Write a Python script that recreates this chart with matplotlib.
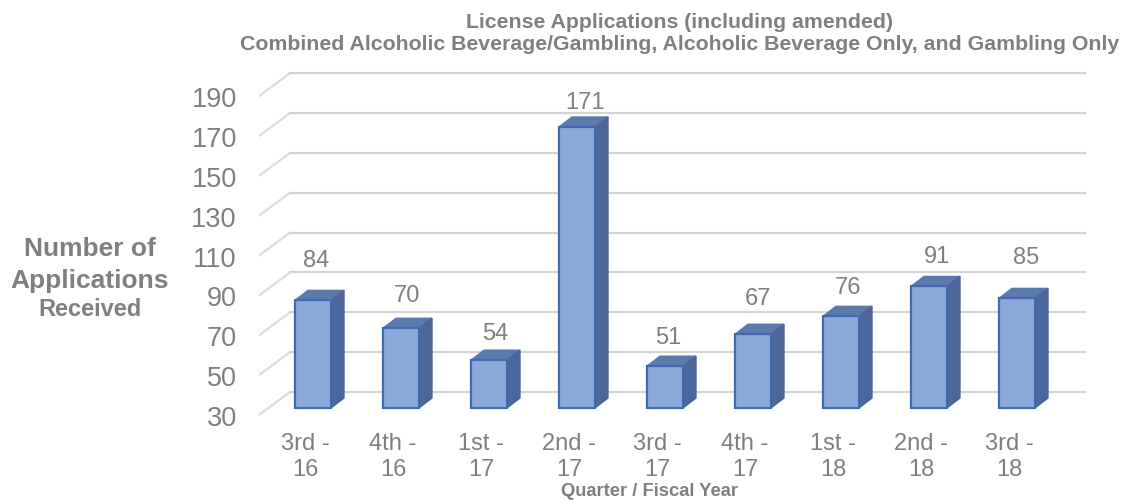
import matplotlib
matplotlib.use("Agg")
import matplotlib.pyplot as plt
from matplotlib.patches import Polygon

plt.rcParams['font.family'] = ['Liberation Sans', 'DejaVu Sans']

quarters = ["3rd -\n16", "4th -\n16", "1st -\n17", "2nd -\n17", "3rd -\n17",
            "4th -\n17", "1st -\n18", "2nd -\n18", "3rd -\n18"]
applications = [84, 70, 54, 171, 51, 67, 76, 91, 85]
y_ticks = [30, 50, 70, 90, 110, 130, 150, 170, 190]
# label offsets from the bar top (px)
label_dx = [3, 6, 6, 8, 3, 5, 7, 8, 9]
label_dy = [40, 33, 27, 25, 29, 36, 29, 30, 41]

W, H = 1125, 502
GRAY = "#7f7f7f"
FRONT, EDGE, TOP, SIDE = "#8ba8d9", "#3f69b2", "#5b79ad", "#4d6699"

px_x = 1 / 88           # data units per pixel, x
px_y = 1 / 1.993        # data units per pixel, y
bar_w = 36 * px_x
dep_x, dep_y = 13 * px_x, 10 * px_y

fig = plt.figure(figsize=(W / 100, H / 100), dpi=100)
left, right, top, bottom = 259, 1125, 40, 420
ax = fig.add_axes([left / W, 1 - bottom / H, (right - left) / W, (bottom - top) / H])
ax.set_xlim((left - 313) * px_x, (right - 313) * px_x)
ax.set_ylim(30 - (bottom - 409) * px_y, 30 + (409 - top) * px_y)
for s in ax.spines.values():
    s.set_visible(False)

# back wall lines and the slanted floor/side lines
x0 = ax.get_xlim()[0]
for v in y_ticks:
    yf, yb = v - 3.5, v + 8
    ax.plot([x0, x0 + 31 * px_x], [yf, yb], color="#dcdcdc", lw=1.6, solid_capstyle="round", zorder=1)
    ax.plot([x0 + 31 * px_x, (1085 - 313) * px_x], [yb, yb], color="#d4d4d4", lw=1.6, zorder=1)

# bars, front face through bar(), then top and side faces
for i, val in enumerate(applications):
    x1, x2 = i - bar_w / 2, i + bar_w / 2
    ax.add_patch(Polygon([(x1, val), (x1 + dep_x, val + dep_y), (x2 + dep_x, val + dep_y), (x2, val)],
                         fc=TOP, ec=TOP, lw=1, zorder=3))
    ax.add_patch(Polygon([(x2, 30), (x2 + dep_x, 30 + dep_y), (x2 + dep_x, val + dep_y), (x2, val)],
                         fc=SIDE, ec=SIDE, lw=1, zorder=3))
ax.bar(range(len(applications)), [a - 30 for a in applications], bottom=30, width=bar_w,
       color=FRONT, edgecolor=EDGE, linewidth=1.6, zorder=4)

for i, val in enumerate(applications):
    ax.annotate(str(val), (i, val), xytext=(label_dx[i] * 0.72, label_dy[i] * 0.72), textcoords="offset points",
                ha="center", va="center", fontsize=17, color=GRAY)

ax.set_yticks([v - 3.5 for v in y_ticks], [str(v) for v in y_ticks])
ax.set_xticks([i - 8 * px_x for i in range(len(quarters))], quarters)
ax.tick_params(axis="y", length=0, pad=16, labelsize=19.5, labelcolor=GRAY)
ax.tick_params(axis="x", length=0, pad=9, labelsize=17, labelcolor=GRAY)
for t in ax.get_xticklabels():
    t.set_linespacing(1.28)

fig.text(680 / W, 1 - 23 / H, "License Applications (including amended)", ha="center", va="center",
         fontsize=15.3, fontweight="bold", color=GRAY)
fig.text(680 / W, 1 - 45 / H, "Combined Alcoholic Beverage/Gambling, Alcoholic Beverage Only, and Gambling Only",
         ha="center", va="center", fontsize=15.3, fontweight="bold", color=GRAY)
fig.text(90 / W, 1 - 249 / H, "Number of", ha="center", va="center", fontsize=19, fontweight="bold", color=GRAY)
fig.text(90 / W, 1 - 281 / H, "Applications", ha="center", va="center", fontsize=19, fontweight="bold", color=GRAY)
fig.text(90 / W, 1 - 309 / H, "Received", ha="center", va="center", fontsize=17, fontweight="bold", color=GRAY)
fig.text(650 / W, 1 - 492 / H, "Quarter / Fiscal Year", ha="center", va="center", fontsize=13.2, fontweight="bold", color=GRAY)

fig.savefig("out.png", dpi=100)
